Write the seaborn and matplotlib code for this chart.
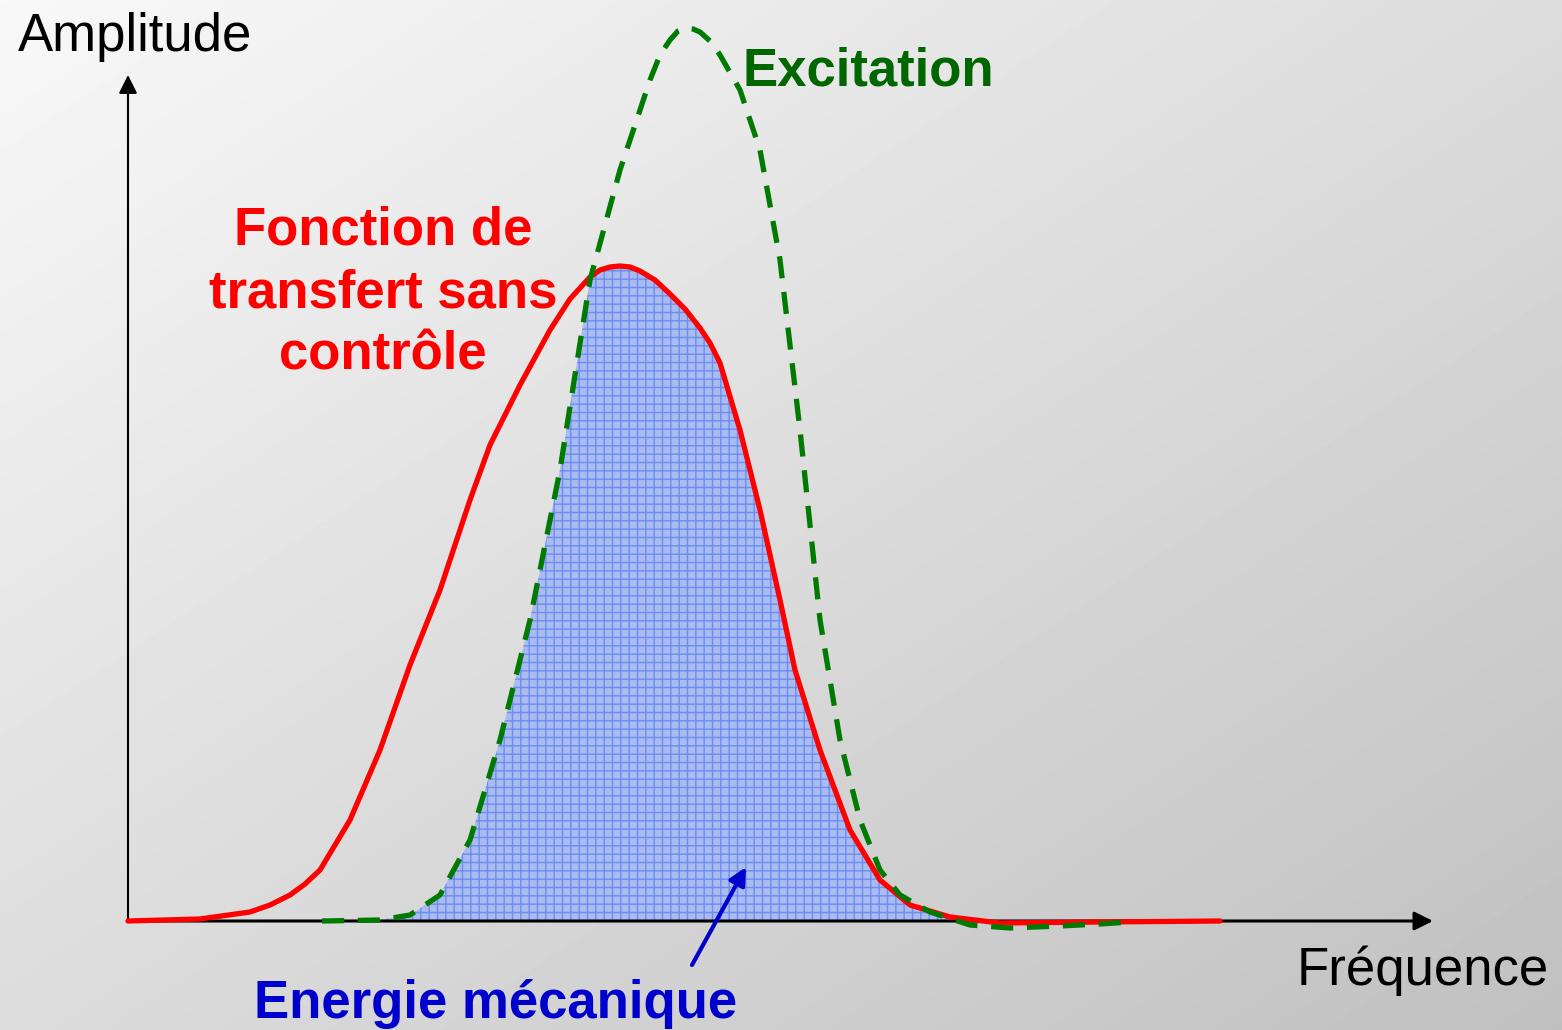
import numpy as np
import pandas as pd
import matplotlib.pyplot as plt
import seaborn as sns

# Transfer function without control (red curve)
freq_transfert = [0, 0.72, 1.22, 1.42, 1.62, 1.77, 1.92, 2.22, 2.52, 2.82, 3.12, 3.42,
                  3.62, 3.92, 4.22, 4.42, 4.62, 4.72, 4.82, 4.92, 5.02, 5.12, 5.27,
                  5.42, 5.57, 5.72, 5.82, 5.92, 6.12, 6.32, 6.52, 6.67, 6.92, 7.22,
                  7.52, 7.82, 8.22, 8.72, 9.72, 10.92]
ampl_transfert = [0, 0.02, 0.09, 0.16, 0.26, 0.37, 0.51, 1.01, 1.71, 2.56, 3.31, 4.21,
                  4.76, 5.36, 5.91, 6.22, 6.44, 6.51, 6.54, 6.55, 6.54, 6.50, 6.41,
                  6.27, 6.12, 5.93, 5.78, 5.58, 4.91, 4.11, 3.21, 2.51, 1.71, 0.91,
                  0.41, 0.16, 0.04, -0.02, -0.01, 0.0]

# Excitation spectrum (green dashed curve)
freq_excitation = [1.94, 2.52, 2.82, 3.12, 3.42, 3.72, 4.02, 4.32, 4.62, 4.92, 5.22,
                   5.32, 5.42, 5.50, 5.57, 5.65, 5.72, 5.82, 5.92, 6.12, 6.32, 6.52,
                   6.72, 6.92, 7.12, 7.32, 7.52, 7.72, 8.02, 8.42, 8.82, 9.32, 9.72,
                   10.02]
ampl_excitation = [0, 0.01, 0.06, 0.26, 0.81, 1.81, 3.01, 4.51, 6.41, 7.51, 8.41,
                   8.66, 8.81, 8.90, 8.93, 8.92, 8.89, 8.80, 8.66, 8.31, 7.71, 6.61,
                   4.91, 3.01, 1.81, 1.01, 0.51, 0.26, 0.09, -0.04, -0.07, -0.05,
                   -0.03, -0.01]

df_t = pd.DataFrame({"freq": freq_transfert, "amp": ampl_transfert})
df_e = pd.DataFrame({"freq": freq_excitation, "amp": ampl_excitation})

sns.set_style("white")
plt.rcParams['font.family'] = ['Liberation Sans', 'DejaVu Sans']
plt.rcParams['hatch.linewidth'] = 1.0

fig = plt.figure(figsize=(15.62, 10.30), dpi=100)

# background gradient (light top-left to grey bottom-right)
bg = fig.add_axes([0, 0, 1, 1])
u, v = np.meshgrid(np.linspace(0, 1, 400), np.linspace(0, 1, 300))
grad = 0.973 - 0.11 * u - 0.11 * v
bg.imshow(grad, cmap='gray', vmin=0, vmax=1, aspect='auto', extent=[0, 1, 1, 0])
bg.axis('off')

ax = fig.add_axes([0, 0, 1, 1])
ax.patch.set_alpha(0)
ax.set_xlim(-1.28, 14.34)
ax.set_ylim(-1.09, 9.21)

# shaded mechanical energy: overlap of both curves
xs = np.linspace(freq_excitation[0], freq_excitation[-1], 600)
overlap = np.minimum(np.interp(xs, freq_transfert, ampl_transfert),
                     np.interp(xs, freq_excitation, ampl_excitation))
overlap = np.clip(overlap, 0, None)
ax.fill_between(xs, 0, overlap, facecolor='#a9bbef', edgecolor='#6d8df3',
                hatch='++', linewidth=0, zorder=1)

# axes with arrows
ax.annotate('', xy=(13.05, 0), xytext=(0, 0),
            arrowprops=dict(arrowstyle='-|>', color='black', lw=2.2,
                            mutation_scale=28, shrinkA=0, shrinkB=0), zorder=2)
ax.annotate('', xy=(0, 8.46), xytext=(0, 0),
            arrowprops=dict(arrowstyle='-|>', color='black', lw=1.5,
                            mutation_scale=28, shrinkA=0, shrinkB=0), zorder=2)

sns.lineplot(data=df_t, x="freq", y="amp", sort=False, color='#ff0000',
             lw=3.8, ax=ax, zorder=3, solid_joinstyle='round')
sns.lineplot(data=df_e, x="freq", y="amp", sort=False, color='#007a00',
             lw=3.8, ax=ax, zorder=4)
ax.lines[-1].set_dashes([4.2, 2.6])
ax.axis('off')

ax.text(-1.10, 8.84, "Amplitude", fontsize=38, color='black', va='center', ha='left')
ax.text(11.69, -0.50, "Fréquence", fontsize=38, color='black', va='center', ha='left')
ax.text(6.15, 8.49, "Excitation", fontsize=38, color='#006600', fontweight='bold',
        va='center', ha='left')
ax.text(2.55, 6.28, "Fonction de\ntransfert sans\ncontrôle", fontsize=38,
        color='#ff0000', fontweight='bold', va='center', ha='center', linespacing=1.33)
ax.text(3.68, -0.83, "Energie mécanique", fontsize=38, color='#0000cc',
        fontweight='bold', va='center', ha='center')
ax.annotate('', xy=(6.18, 0.54), xytext=(5.64, -0.44),
            arrowprops=dict(arrowstyle='-|>', color='#0000cc', lw=3,
                            mutation_scale=26, shrinkA=0, shrinkB=0), zorder=5)

fig.savefig("out.png", dpi=100)
